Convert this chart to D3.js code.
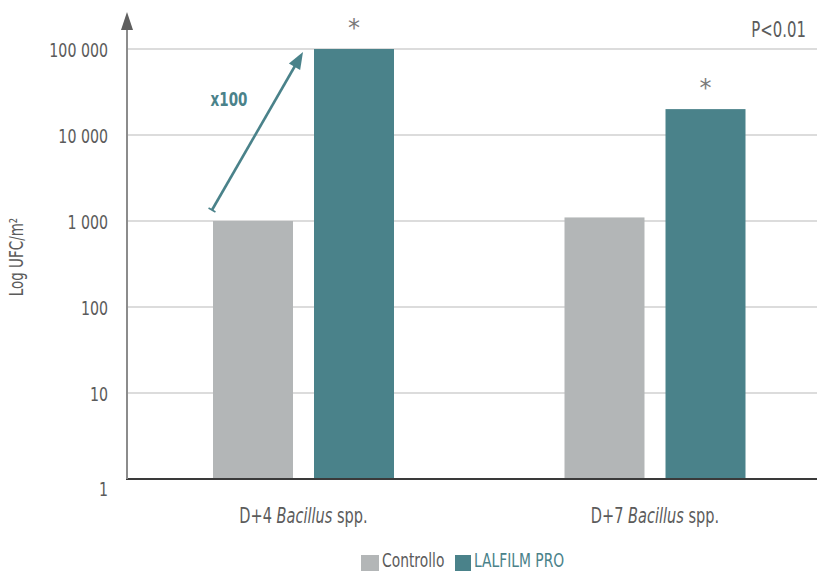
<!DOCTYPE html>
<html>
<head>
<meta charset="utf-8">
<script src="https://cdn.jsdelivr.net/npm/d3@7"></script>
<style>
  html, body { margin: 0; padding: 0; background: #fff; }
  svg { display: block; font-family: "DejaVu Sans", sans-serif; }
</style>
</head>
<body>
<svg id="chart" width="817" height="572"></svg>
<script>
// Bacillus counts per square metre, control vs treated surface
const groups = ["D+4", "D+7"];
const groupSuffix = "spp.";
const genus = "Bacillus";
const seriesNames = ["Controllo", "LALFILM PRO"];
const controlValues = [1000, 1100];
const lalfilmValues = [100000, 20000];
const yTicks = [1, 10, 100, 1000, 10000, 100000];
const yTickLabels = ["1", "10", "100", "1 000", "10 000", "100 000"];
const foldLabel = "x100";
const pLabel = "P<0.01";
const yTitle = "Log UFC/m²";

const colors = { "Controllo": "#b3b6b7", "LALFILM PRO": "#4a828a" };
const textGrey = "#5b5b5b";
const condense = 0.71; // horizontal squeeze for a narrow typeface look

const svg = d3.select("#chart");
const plotLeft = 127, plotRight = 817, plotTop = 49, plotBottom = 479;

const y = d3.scaleLog().domain([1, 100000]).range([plotBottom, plotTop]);
const xGroup = d3.scalePoint().domain(groups).range([303.5, 655]);
const xSeries = d3.scaleBand().domain(seriesNames).range([-90.5, 90.5]).paddingInner(0.208);

// horizontal gridlines
svg.append("g").selectAll("line")
  .data(yTicks.filter(t => t > 1))
  .join("line")
  .attr("x1", plotLeft).attr("x2", plotRight)
  .attr("y1", d => y(d)).attr("y2", d => y(d))
  .attr("stroke", "#dcdcdc").attr("stroke-width", 2);

// y axis via d3.axisLeft, labels only
const yAxis = d3.axisLeft(y)
  .tickValues(yTicks)
  .tickFormat((d, i) => yTickLabels[i])
  .tickSize(0)
  .tickPadding(19);
const gy = svg.append("g").attr("transform", `translate(${plotLeft},0)`).call(yAxis);
gy.select(".domain").remove();
gy.selectAll("text")
  .attr("fill", textGrey)
  .style("font-size", "20px")
  .style("font-family", "DejaVu Sans, sans-serif")
  .attr("dy", null)
  .attr("y", 7);
gy.selectAll(".tick").filter(d => d === 1).select("text").attr("y", 16);

// bars
const rows = groups.map((g, i) => ({ group: g, values: [
  { series: seriesNames[0], value: controlValues[i] },
  { series: seriesNames[1], value: lalfilmValues[i] }
]}));

const barG = svg.append("g");
rows.forEach(r => {
  barG.selectAll(null)
    .data(r.values)
    .join("rect")
    .attr("x", d => xGroup(r.group) + xSeries(d.series))
    .attr("width", xSeries.bandwidth())
    .attr("y", d => y(d.value))
    .attr("height", d => y(1) - y(d.value))
    .attr("fill", d => colors[d.series]);
});

// significance asterisks above treated bars
svg.append("g").selectAll("text")
  .data(groups.map((g, i) => ({ group: g, value: lalfilmValues[i] })))
  .join("text")
  .attr("class", "keep")
  .attr("x", d => xGroup(d.group) + xSeries(seriesNames[1]) + xSeries.bandwidth() / 2)
  .attr("y", d => y(d.value) - 13)
  .attr("text-anchor", "middle")
  .attr("fill", "#7a7a7a")
  .style("font-size", "24px")
  .text("*");

// baseline
svg.append("line")
  .attr("x1", plotLeft - 1).attr("x2", plotRight)
  .attr("y1", y(1)).attr("y2", y(1))
  .attr("stroke", "#3a3a3a").attr("stroke-width", 2);

// vertical axis with arrowhead
svg.append("line")
  .attr("x1", plotLeft).attr("x2", plotLeft)
  .attr("y1", y(1)).attr("y2", 26)
  .attr("stroke", "#8c8c8c").attr("stroke-width", 2);
svg.append("path")
  .attr("d", `M${plotLeft},12 L${plotLeft + 6},30 L${plotLeft - 6},30 Z`)
  .attr("fill", "#5f5f5f");

// fold-change arrow between the D+4 bars
const c0 = xGroup(groups[0]) + xSeries(seriesNames[0]);
const t0 = xGroup(groups[0]) + xSeries(seriesNames[1]);
const ax1 = c0 - 1, ay1 = y(controlValues[0]) - 11;
const ax2 = t0 - 11, ay2 = y(lalfilmValues[0]) + 3;
const ang = Math.atan2(ay2 - ay1, ax2 - ax1);
const headLen = 17, headHalf = 6.5;
const bx = ax2 - headLen * Math.cos(ang), by = ay2 - headLen * Math.sin(ang);
const px = -Math.sin(ang), py = Math.cos(ang);
const arrowColor = "#4a828a";
svg.append("line")
  .attr("x1", ax1).attr("y1", ay1).attr("x2", bx + 2 * Math.cos(ang)).attr("y2", by + 2 * Math.sin(ang))
  .attr("stroke", arrowColor).attr("stroke-width", 2.6);
svg.append("line")
  .attr("x1", ax1 - 4 * px).attr("y1", ay1 - 4 * py)
  .attr("x2", ax1 + 4 * px).attr("y2", ay1 + 4 * py)
  .attr("stroke", arrowColor).attr("stroke-width", 1.6);
svg.append("path")
  .attr("d", `M${ax2},${ay2} L${bx + headHalf * px},${by + headHalf * py} L${bx - headHalf * px},${by - headHalf * py} Z`)
  .attr("fill", arrowColor);
svg.append("text")
  .attr("x", 229).attr("y", 106)
  .attr("text-anchor", "middle")
  .attr("fill", arrowColor)
  .style("font-size", "19px").style("font-weight", "bold")
  .text(foldLabel);

// p-value note
svg.append("text")
  .attr("x", 806).attr("y", 37)
  .attr("text-anchor", "end")
  .attr("fill", textGrey)
  .style("font-size", "21px")
  .text(pLabel);

// y title (rotated)
svg.append("text")
  .attr("class", "rot")
  .attr("transform", "translate(23,257) rotate(-90)")
  .attr("text-anchor", "middle")
  .attr("fill", textGrey)
  .style("font-size", "19px")
  .text(yTitle);

// category labels
const catG = svg.append("g");
groups.forEach((g, i) => {
  const t = catG.append("text")
    .attr("x", xGroup(g)).attr("y", 523)
    .attr("text-anchor", "middle")
    .attr("fill", textGrey)
    .style("font-size", "20.5px");
  t.append("tspan").text(g + " ");
  t.append("tspan").style("font-style", "italic").text(genus);
  t.append("tspan").text(" " + groupSuffix);
});

// legend
const legend = svg.append("g");
const legendItems = [
  { name: seriesNames[0], x: 361, w: 18, textColor: textGrey },
  { name: seriesNames[1], x: 455, w: 16, textColor: colors[seriesNames[1]] }
];
legendItems.forEach(it => {
  legend.append("rect")
    .attr("x", it.x).attr("y", 555).attr("width", it.w).attr("height", 16)
    .attr("fill", colors[it.name]);
  legend.append("text")
    .attr("x", it.x + it.w + 3).attr("y", 567)
    .attr("fill", it.textColor)
    .style("font-size", "19.5px")
    .text(it.name);
});

// squeeze every label horizontally so the face reads as a condensed one
svg.selectAll("text").filter(function () { return !this.classList.contains("keep"); })
  .each(function () {
    const el = d3.select(this);
    if (this.classList.contains("rot")) {
      el.attr("transform", el.attr("transform") + ` scale(${condense},1)`);
      return;
    }
    const x = +(el.attr("x") || 0), yy = +(el.attr("y") || 0);
    el.attr("x", 0).attr("y", 0)
      .attr("transform", `translate(${x},${yy}) scale(${condense},1)`);
  });
</script>
</body>
</html>
